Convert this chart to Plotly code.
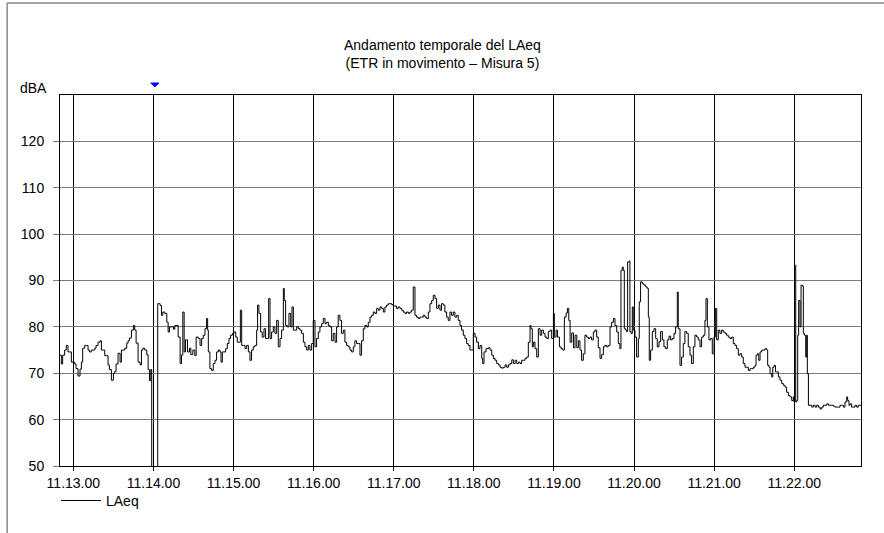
import plotly.graph_objects as go
import pandas as pd

# ---- data -------------------------------------------------------------
start_time = "2000-01-01 11:12:50"
end_time = "2000-01-01 11:22:50"
tick_start = "2000-01-01 11:13:00"
cursor_time = "2000-01-01 11:14:01"

title_lines = ["Andamento temporale del LAeq", "(ETR in movimento \u2013 Misura 5)"]
y_unit = "dBA"
series_name = "LAeq"
y_tick_values = [50, 60, 70, 80, 90, 100, 110, 120]

# seconds elapsed since 11:12:50
offsets = [
    0, 1, 2, 3.5, 4.7, 6, 7, 8.5, 10, 11,
    12, 13.5, 15, 16, 17, 18.5, 20, 21, 22, 23.5,
    25, 26, 27, 28.5, 30, 31, 32, 33.5, 35, 36,
    37, 38.5, 40, 41, 42, 43.5, 45, 46, 47, 48.5,
    50, 51, 52, 53.5, 55, 56, 57, 58.5, 60, 61,
    62, 63.5, 65, 66, 67, 68,
    68.7, 73.2, 75, 76, 77, 78.5, 80, 81, 82, 83.5,
    85, 86, 87, 88.5, 90, 91, 92, 93, 94, 95.5,
    97, 98, 99.5, 101, 102,
    103.6, 104.9, 106.1, 107.3, 108.6, 109.8, 110.6, 111.1, 112.3, 113.6,
    114.8, 116.1, 117.3, 118.6, 119.8, 120.6, 121.6, 122.8, 124.1, 125.3,
    126.6, 127.8, 129.1, 130.3, 131.6, 132.8, 134.1, 135.1, 136.1, 137.3,
    138.6, 139.8, 141.1, 142.3, 143.5, 144.8, 146, 147.3, 148, 149,
    150.3, 151.5, 152.8, 154, 155.3, 156.3, 157.3, 158.5, 159.8, 161,
    162.3, 163.5, 164.8, 166, 167.3, 168, 169, 170.3, 171.5, 172.8,
    173.8, 174.8, 176, 177.3, 178.5, 179.8, 181, 182.3, 183.5, 184.8,
    186, 187.2, 188.5, 189.7, 191, 192.2, 193.5, 194.7, 196, 197.2,
    198.5, 199.7, 201, 202.2, 203.5, 204.7,
    206, 207.2, 208.4, 209.7, 210.9, 212.2, 213.4, 214.7, 215.9, 217.2,
    218.4, 219.7, 220.9, 222.2, 223.4, 224.7, 225.9, 227.2, 228.4, 229.7,
    230.9, 232.2, 233.4, 234.7, 235.9, 237.2, 238.4, 239.7, 240.9, 242.2,
    243.4, 244.6, 245.9, 247.1, 248.4, 249.6, 250.9, 252.1, 253.4, 254.6,
    255.9, 257.1, 258.4, 259.6, 260.9, 262.1, 263.4, 264.6, 265.9, 267.1,
    268.4, 269.6, 270.9, 272.1, 273.4, 274.6, 275.9, 277.1, 278.4, 279.6,
    280.9, 282.1, 283.4, 284.6, 285.8, 287.1, 288.3, 289.6, 290.8, 292.1,
    293.3, 294.6, 295.8, 297.1, 298.3, 299.6, 300.8, 302.1, 303.3, 304.6,
    305.8,
    307.1, 308.4, 309.6, 310.9, 312.1, 313.4, 314.6, 315.9, 316.6, 317.6,
    319.1, 320.9, 322.1, 323.4, 324.6, 325.9, 327.1, 328.4, 329.6, 330.9,
    332.1, 333.4, 334.6, 335.9, 337.1, 338.4, 339.6, 340.9, 342.1, 343.4,
    344.6, 345.8, 347.1, 348.3, 349.6, 350.8, 352.1, 352.8, 353.8, 354.6,
    355.8, 357.1, 358.3, 359.6, 360.8, 362.1, 363.3, 364.6, 365.8, 367.1,
    368.3, 369.6, 370.3, 371.6, 372.6, 374.1, 375.3, 376.6, 377.8, 379.1,
    380.1, 381.1, 382.1, 383.3, 384.6, 385.8, 387.1, 388.3,
    389.5, 390.7, 392, 393.2, 394.5, 395.7, 397, 398.2, 399.5, 400.7,
    402, 403.2, 404.5, 405.7, 407, 408.2, 409.5, 410.7, 412, 413.2,
    414.5, 415.7, 417, 418.2, 419.4, 420.2, 421.2, 421.9, 422.7, 423.7,
    424.4, 425.2, 426.2, 426.9, 427.7, 428.7, 429.4, 430.7, 431.9, 433.2,
    433.9, 434.9, 436.2, 437.4, 438.7, 439.9, 440.7, 441.4, 442.4, 443.7,
    444.9, 446.2, 447.4, 448.7, 449.9, 451.2, 452.4, 453.7, 454.9, 456.2,
    457.4, 458.6, 459.9, 461.1, 462.4, 463.1, 464.4, 465.6, 466.9, 468.1,
    469.4, 470.6, 471.9, 473.1, 474.4, 475.6, 476.9, 478.1, 479.4, 480.6,
    481.9, 483.1, 483.9, 484.9, 486.1, 487.4, 488.6, 489.9, 490.9, 491.9,
    493.1, 494.3, 495.6, 496.8, 498.1, 499.3, 500.6, 501.8, 503.1, 504.3,
    505.6, 506.8, 508.1, 509.3, 510.6, 511.8, 513.1,
    514.4, 515.6, 516.9, 518.1, 519.4, 520.6, 521.4, 522.4, 523.4, 524.4,
    525.6, 526.9, 528.1, 529.4, 530.1, 531.1, 531.9, 533.1, 533.9, 534.9,
    535.9, 536.9, 538.1, 539.3, 540.6, 541.8, 543.1, 544.3, 545.6, 546.8,
    548.1, 549.3, 549.8, 550.3, 551.1, 551.8, 552.6, 553.3, 554.3, 555.1,
    556.1, 556.8, 557.6, 558.6, 559.3, 559.8, 560.6, 561.8, 563.1, 564.3,
    565.6, 566.8, 568.1, 569.3, 570.6, 571.8, 573.1, 574.3, 575.6, 576.8,
    578.1, 579.3, 580.5, 581.8, 583, 584.3, 585.5, 586.8, 588, 589.3,
    590, 591, 591.8, 593, 594.3, 595.5, 596.8, 598, 599.3, 600.5,
]

laeq = [
    73.9, 72, 73.9, 75, 76, 74.6, 74.6, 72.4, 72.4, 72,
    71, 69.4, 70.9, 72.4, 75.4, 76, 76, 75, 74.6, 75,
    75, 75.4, 76, 76.7, 77, 75, 75, 73.8, 73.8, 71.8,
    70.8, 68.5, 70, 70.4, 72, 74.3, 72.4, 75, 75, 75.4,
    76.5, 77, 77.6, 79.3, 80.3, 79.3, 76.5, 72.4, 71.8, 75,
    75.4, 75, 74, 70.8, 68.4, 70.8,
    45, 85.0, 84.6, 82.5, 83.2, 82.9, 81, 78.9, 80, 80,
    79.5, 80.3, 80.3, 77.8, 72.1, 73.9, 83.2, 74.6, 77.2, 74.6,
    75.4, 74, 75, 73.8, 77.8,
    77.5, 76, 77.5, 78.2, 79.6, 81.8, 79.3, 74.6, 71, 70.6,
    72.1, 72.8, 74.6, 75, 74.6, 72.4, 74.6, 74.6, 75.3, 76.4,
    77.5, 78.2, 78.6, 78.9, 77.8, 76.7, 76.7, 83.6, 76, 76,
    75.3, 76, 74.6, 72.8, 75, 75.7, 76, 79.3, 84.7, 82.9,
    78.9, 77.8, 79.6, 77.5, 77.5, 86.1, 77.5, 78.9, 80, 78.6,
    81.4, 75.7, 77.5, 79.3, 88.3, 85.7, 80.3, 80, 82.9, 80,
    84.3, 79.3, 79.3, 80, 79.6, 79.3, 78.6, 76.7, 75.7, 75,
    76, 75, 76.4, 81.4, 75.7, 77.5, 78.9, 80, 80.7, 81.8,
    80.7, 81, 80.3, 80, 77, 78.6,
    76.7, 80, 82.5, 81.4, 78.6, 79.3, 76.7, 76, 75.7, 75,
    74.6, 75.7, 77, 76.4, 76.4, 73.9, 77, 79.6, 80.3, 80,
    81, 82.1, 82.5, 83.2, 82.9, 84, 83.6, 84.3, 84, 83.2,
    84.3, 84.7, 85, 85, 84.8, 84.5, 84.5, 84, 84.3, 84,
    83.6, 83.2, 82.9, 83.2, 82.9, 83.2, 83.6, 88.6, 82.5, 82.1,
    81.8, 82.1, 82.1, 82.5, 82.1, 81.8, 83.2, 85, 85.7, 86.8,
    86.1, 84, 84.7, 83.6, 85, 84.7, 83.2, 82.1, 81.4, 83.2,
    82.5, 83.2, 82.1, 82.5, 81.4, 80.3, 79.3, 78.2, 77.5, 76.4,
    76,
    75, 75, 78.6, 77.8, 76.7, 75.3, 76, 73.2, 72.1, 74.6,
    75.3, 75.5, 75, 73.9, 73.2, 72.8, 72.1, 71.8, 71.3, 71.1,
    71.3, 71.8, 71.3, 71.8, 72.1, 72.9, 72.1, 72.8, 72.1, 72.4,
    72.1, 72.8, 72.8, 73.2, 73.5, 76.7, 80.3, 79.6, 75.7, 76.7,
    75.3, 73.5, 79.6, 78.2, 79.3, 78.6, 77.8, 77.5, 79, 79.3,
    77.5, 82.9, 77.8, 79.3, 77.8, 75.7, 75.3, 75, 82.1, 83,
    84, 81.4, 76.7, 78.7, 75.5, 78.2, 75.5, 77,
    75, 72.8, 74.2, 78.2, 77.8, 77.5, 77.8, 77.2, 78.9, 79.3,
    77.8, 75.5, 73.2, 74, 75.7, 76, 75.7, 76, 80, 81,
    81.8, 80.3, 78.9, 76.4, 75.3, 92.2, 92.9, 92.2, 79.6, 79.3,
    79, 94, 94.2, 79, 78.6, 84.3, 79.3, 77.8, 73.5, 77.5,
    85.4, 89.7, 89.3, 89, 88.6, 88.3, 82.1, 72.8, 75, 79,
    79.6, 77.5, 75.7, 76.8, 79, 77.2, 75.7, 75.3, 77.2, 78,
    77.2, 77.5, 78.6, 80, 87.5, 79.6, 71.7, 73.5, 76.4, 79,
    78.6, 75.7, 73.9, 72.1, 75.7, 78.2, 77.8, 77.2, 75.7, 77.8,
    78.2, 81.4, 86.1, 80, 77.2, 77.5, 74.2, 77.8, 84, 77.2,
    79.3, 78.6, 79.3, 78.9, 78.6, 78.2, 77.8, 77.5, 77.8, 76.4,
    76, 75.3, 73.9, 74.2, 73.5, 72.1, 71.3,
    71.3, 70.6, 71, 71, 71.3, 71.7, 73.9, 74.2, 72.8, 74.6,
    75, 75, 75.3, 75, 71.7, 71.3, 69.9, 69.2, 71.3, 71.7,
    70.3, 70.3, 69.2, 68.5, 67.8, 67.4, 67, 65.9, 65.2, 64.9,
    64.1, 64.9, 63.8, 93.3, 63.8, 64.1, 78.2, 85.7, 80, 89,
    88.8, 78.6, 78.2, 73.5, 78.2, 69.9, 63.1, 63.1, 62.7, 63.1,
    62.7, 63.1, 62.7, 62.3, 62.7, 63.1, 63.1, 63.4, 63.1, 63.1,
    63.1, 62.9, 62.7, 62.7, 62.7, 63.1, 63.1, 62.7, 63.8, 64.9,
    64.1, 63.1, 63.4, 62.7, 62.7, 63.1, 62.7, 63.1, 63.1, 63.1,
]

assert len(offsets) == len(laeq), (len(offsets), len(laeq))

times = pd.Timestamp(start_time) + pd.to_timedelta(offsets, unit="s")

FONT = "Liberation Sans, Arial, sans-serif"
FS = 14

fig = go.Figure()
fig.add_trace(go.Scatter(
    x=times, y=laeq, mode="lines", name=series_name,
    line=dict(color="black", width=1, shape="hv"),
))

fig.update_layout(
    width=884, height=533,
    margin=dict(l=60, r=23, t=95, b=67),
    paper_bgcolor="white", plot_bgcolor="white",
    font=dict(family=FONT, size=FS, color="black"),
    showlegend=True,
    legend=dict(orientation="h", x=-0.005, xanchor="left", y=-0.094, yanchor="middle",
                font=dict(size=FS), bgcolor="rgba(0,0,0,0)", itemwidth=40),
    annotations=[
        dict(text="<br>".join(title_lines), xref="paper", yref="paper",
             x=0.4775, y=1.11, xanchor="center", yanchor="middle",
             showarrow=False, font=dict(size=FS)),
        dict(text=y_unit, xref="paper", yref="paper", x=-0.052, y=1.019,
             xanchor="left", yanchor="middle", showarrow=False, font=dict(size=FS)),
    ],
    shapes=[
        # outer frame
        dict(type="line", xref="paper", yref="paper", x0=-0.066, x1=1.05,
             y0=1.248, y1=1.248, line=dict(color="#888888", width=1.5)),
        dict(type="line", xref="paper", yref="paper", x0=-0.066, x1=-0.066,
             y0=1.248, y1=-0.2, line=dict(color="#888888", width=1.5)),
        # cursor marker above the plot
        dict(type="path", xref="x", yref="paper",
             xsizemode="pixel", xanchor=cursor_time,
             ysizemode="pixel", yanchor=1,
             path="M-4,12 L4,12 L0,8 Z",
             fillcolor="#0000ff", line=dict(color="#0000ff", width=1)),
    ],
)

fig.update_xaxes(
    type="date", range=[start_time, end_time],
    tick0=tick_start, dtick=60000, tickformat="%H.%M.%S",
    showgrid=True, gridcolor="black", gridwidth=1,
    showline=True, linecolor="black", linewidth=1, mirror=True,
    ticks="outside", ticklen=4, tickcolor="black",
    zeroline=False, tickfont=dict(size=FS),
)
fig.update_yaxes(
    range=[50, 130], tickvals=y_tick_values,
    showgrid=True, gridcolor="#7a7a7a", gridwidth=1,
    showline=True, linecolor="black", linewidth=1, mirror=True,
    ticks="outside", ticklen=6, tickcolor="#7a7a7a",
    ticklabelstandoff=6,
    zeroline=False, tickfont=dict(size=FS),
)

fig.write_html("out.html")
